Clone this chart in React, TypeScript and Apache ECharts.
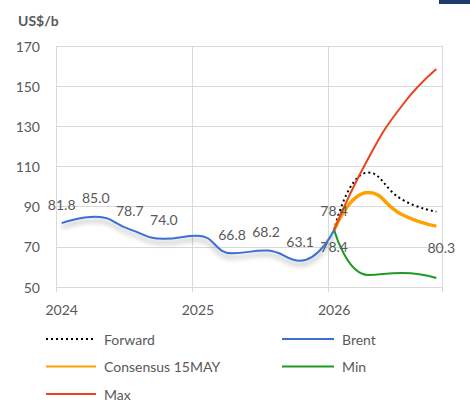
import React, { useEffect, useRef } from "react";
import * as echarts from "echarts";

// Monthly categories Jan 2024 .. Oct 2026
const startYear = 2024;
const monthCount = 34;
const months: string[] = [];
for (let i = 0; i < monthCount; i++) {
  const y = startYear + Math.floor(i / 12);
  const m = (i % 12) + 1;
  months.push(`${y}-${m < 10 ? "0" + m : m}`);
}

const brentMonths = ["2024-01", "2024-04", "2024-07", "2024-10", "2025-01", "2025-04", "2025-07", "2025-10", "2026-01"];
const brentValues = [81.8, 85.0, 78.7, 74.0, 75.5, 66.8, 68.2, 63.1, 78.4];
const brentLabelled = [true, true, true, true, false, true, true, true, true];

const forecastMonths = ["2026-01", "2026-04", "2026-07", "2026-10"];
const forwardValues = [78.4, 107.0, 93.5, 87.5];
const consensusValues = [78.4, 97.0, 86.0, 80.3];
const minValues = [78.4, 56.0, 57.0, 54.5];
const maxValues = [78.4, 114.0, 140.5, 158.5];

const yTicks = { min: 50, max: 170, interval: 20 };

const TXT = "#595959";
const GRID = "#d9d9d9";
const FONT = "Lato, 'Liberation Sans', sans-serif";

export default function App() {
  const ref = useRef<HTMLDivElement>(null);
  useEffect(() => {
    if (!ref.current) return;
    const chart = echarts.init(ref.current, null, { renderer: "svg" });
    const lbl = (pos: string, dist: number, offset?: number[]) => ({
      show: true,
      position: pos,
      distance: dist,
      offset: offset || [0, 0],
      color: TXT,
      fontSize: 14,
      fontFamily: FONT,
      formatter: (p: any) => Number(p.value[1]).toFixed(1),
    });
    const hide = { show: false };

    const brentData = brentMonths.map((m, i) => ({
      value: [m, brentValues[i]],
      label: brentLabelled[i] ? lbl("top", 12) : hide,
    }));
    const forwardData = forecastMonths.map((m, i) => ({ value: [m, forwardValues[i]], label: hide }));
    const consensusData = forecastMonths.map((m, i) => ({
      value: [m, consensusValues[i]],
      label: i === forecastMonths.length - 1 ? lbl("bottom", 14, [5, 0]) : hide,
    }));
    const minData = forecastMonths.map((m, i) => ({
      value: [m, minValues[i]],
      label: i === 0 ? lbl("bottom", 10) : hide,
    }));
    const maxData = forecastMonths.map((m, i) => ({ value: [m, maxValues[i]], label: hide }));

    const legendBase = {
      orient: "vertical",
      top: 332,
      padding: 0,
      itemHeight: 14,
      itemGap: 13.5,
      itemStyle: { opacity: 0 },
      textStyle: { fontSize: 14, color: TXT, fontFamily: FONT, lineHeight: 14, padding: [0, 0, 0, 3] },
    };

    const lineSeries = (name: string, data: any[], color: string, lineStyle: any, z: number) => ({
      name,
      type: "line",
      smooth: 0.5,
      symbol: "circle",
      symbolSize: 0.01,
      showSymbol: true,
      data,
      color,
      itemStyle: { color },
      lineStyle: { color, ...lineStyle },
      z,
    });

    chart.setOption({
      animation: false,
      textStyle: { fontFamily: FONT },
      grid: { left: 56, right: 28, top: 46, bottom: 114 },
      graphic: [
        {
          type: "text",
          x: 18,
          y: 20,
          style: { text: "US$/b", fill: TXT, font: `bold 14px ${FONT}`, verticalAlign: "middle" },
        },
        { type: "rect", shape: { x: 439, y: 0, width: 31, height: 4 }, style: { fill: "#1f3b6b" } },
      ],
      legend: [
        { ...legendBase, left: 45, itemWidth: 50, data: ["Forward", "Consensus 15MAY", "Max"] },
        { ...legendBase, left: 281, itemWidth: 52, data: ["Brent", "Min"] },
      ],
      xAxis: {
        type: "category",
        data: months,
        boundaryGap: true,
        axisLine: { show: false },
        axisTick: { show: true, length: 5, interval: (i: number) => i % 12 === 0, lineStyle: { color: GRID } },
        splitLine: { show: true, interval: (i: number) => i % 12 === 0, lineStyle: { color: GRID, width: 1 } },
        axisLabel: {
          interval: (i: number) => i % 12 === 0,
          formatter: (v: string) => v.slice(0, 4),
          color: TXT,
          fontSize: 14,
          margin: 15,
        },
      },
      yAxis: {
        type: "value",
        min: yTicks.min,
        max: yTicks.max,
        interval: yTicks.interval,
        axisLine: { show: false },
        axisTick: { show: false },
        splitLine: { lineStyle: { color: GRID, width: 1 } },
        axisLabel: { color: TXT, fontSize: 14, margin: 16 },
      },
      series: [
        lineSeries("Forward", forwardData, "#000000", { width: 2, type: [2, 3] }, 3),
        lineSeries("Consensus 15MAY", consensusData, "#ffa000", { width: 3.5 }, 3),
        lineSeries("Min", minData, "#1f9a22", { width: 2 }, 3),
        lineSeries("Max", maxData, "#e8431c", { width: 2 }, 4),
        lineSeries(
          "Brent",
          brentData,
          "#3b6fd4",
          { width: 2, shadowColor: "rgba(0,0,0,0.35)", shadowBlur: 5, shadowOffsetY: 4 },
          5
        ),
      ],
    });
    return () => chart.dispose();
  }, []);
  return <div ref={ref} style={{ position: "absolute", left: 0, top: 0, width: 470, height: 401 }} />;
}
